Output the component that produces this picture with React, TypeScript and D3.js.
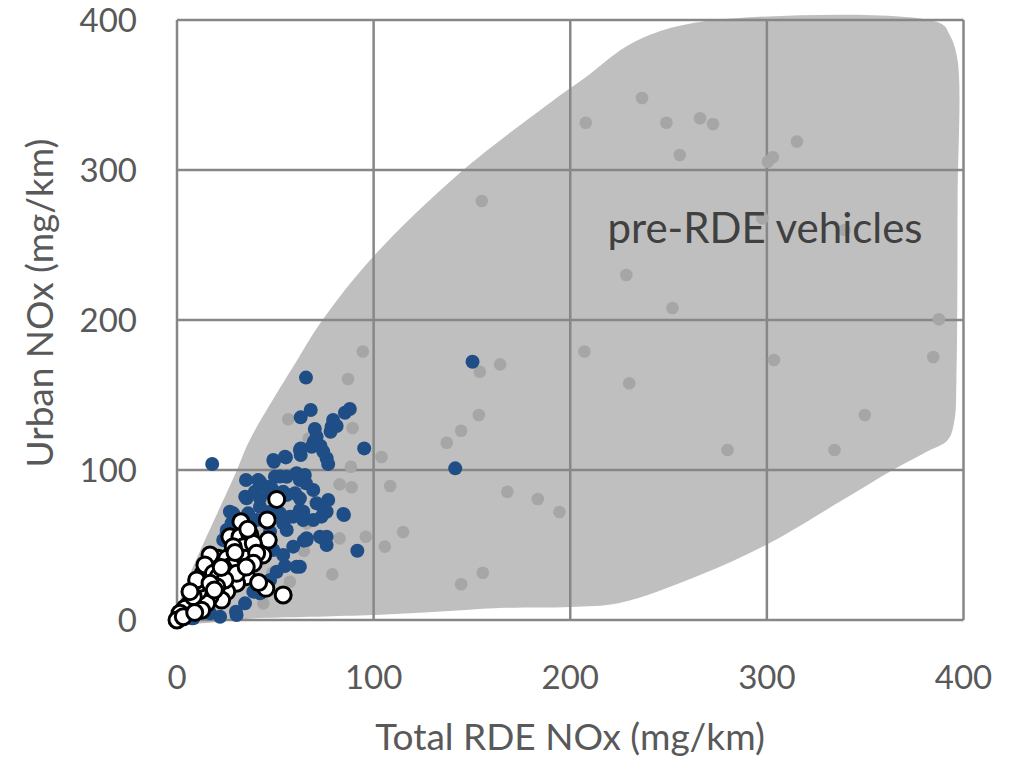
import React from 'react';
import * as d3 from 'd3';

// pre-RDE envelope (data coords), traced counter-clockwise from origin
const envelope: [number, number][] = [
  [0, 0], [42, 1.3], [99.6, 3.3], [130, 5.3], [164, 8], [200, 8.7], [225, 11.3],
  [266, 30], [301, 51], [338.5, 80], [364, 100], [381, 112], [392, 120],
  [395.4, 133], [396.4, 160], [397, 280], [397, 373], [393, 390], [388, 398],
  [266, 398.7], [232, 385], [208, 362], [192, 347], [143.8, 298], [99.6, 242],
  [74, 200], [61, 173], [37, 120], [30.5, 100], [1.5, 13],
];

const preRde: [number, number][] = [
  [207.9, 331.5], [236.5, 348], [248.9, 331.5], [266, 334.5], [272.6, 330.7],
  [255.7, 310], [315.3, 319], [300.5, 305.5], [303, 308.5], [297.7, 267.8],
  [339.5, 260], [228.5, 230], [252, 208], [387.5, 200.5], [207.2, 179],
  [303.6, 173.3], [384.6, 175.3], [230, 157.8], [349.8, 136.7], [280, 113.3],
  [334.4, 113.3], [155, 279.3], [94.5, 179], [87, 160.7], [89.3, 128],
  [104, 108.7], [88.4, 102.2], [82.7, 90.5], [88.8, 88.5], [108.4, 89.3],
  [66, 64.4], [82.7, 54.4], [96, 55.5], [115, 58.7], [105.7, 48.9], [64.5, 46.2],
  [79, 30.4], [154, 165.5], [164.3, 170.4], [153.5, 136.7], [144.5, 126.2],
  [137.2, 118.2], [168, 85.5], [183.5, 80.7], [194.5, 72], [144.5, 23.8],
  [155.5, 31.5], [56.6, 133.8], [67, 121], [57.4, 25.5], [43.9, 11.1], [48.6, 31.5],
];

const rdeVehicles: [number, number][] = [
  [17.9, 104], [65.6, 161.6], [68, 140], [62.9, 135.1], [87.9, 140.7], [85.4, 138.2],
  [79.4, 133.3], [78.6, 128.9], [81.2, 129.3], [78.1, 125.5], [70.1, 127.3],
  [71, 122.2], [69.6, 118.9], [73, 116], [74.4, 112.2], [76.1, 107.8], [76.9, 104],
  [95.2, 114.4], [62.9, 114.4], [62.9, 110], [55.4, 108.4], [49.3, 105.5],
  [35.1, 93.3], [42.2, 92.2], [45.6, 88.9], [52.4, 95.6], [60.8, 97.8], [62.5, 93.3],
  [65.6, 91.1], [48.1, 87.8], [54, 85.5], [39.6, 85.5], [34.7, 82.2], [60, 84.5],
  [71, 77.8], [76.9, 80], [74.4, 74.4], [84.6, 70.7], [64.2, 72.2], [42.2, 75.5],
  [28.6, 71.1], [27.8, 64.5], [25.3, 57.8], [47.3, 72.2], [52.4, 71.1], [59.1, 68.9],
  [54, 64.5], [40.5, 66.7], [65.9, 54.5], [72.7, 55.5], [76.1, 55.5], [65, 96.7],
  [63.9, 72.2], [84.9, 70], [64.5, 52.9], [74.4, 54.5], [76.1, 50], [91.7, 46.2],
  [62.5, 35.5], [73.5, 68.9], [76.1, 72.2], [54.9, 108.9], [62.5, 113.3], [68.5, 115.5],
  [49, 106.7], [41.3, 93.3], [49.8, 95.5], [55.8, 95.5], [69.3, 86.7], [35.4, 81.1],
  [42.2, 81.1], [48.1, 84.5], [55.8, 83.3], [62.5, 81.1], [26.9, 72.2], [30.3, 67.8],
  [36.2, 71.1], [45.6, 66.7], [57.4, 68.9], [62.5, 73.3], [69.3, 66.7], [25.3, 60],
  [23.5, 53.3], [47.3, 58.9], [55.8, 60], [49, 46.7], [54, 43.3], [59.1, 48.9],
  [65.9, 53.3], [64.2, 66.7], [54.9, 36], [60.8, 35.5], [50.7, 32.2], [47.3, 26.7],
  [40.5, 20], [42.2, 17.8], [34.6, 11.1], [30.3, 3.3], [21.9, 2.2], [16.8, 4.5],
  [8.3, 1.1], [21.9, 22.2], [15.1, 13.3], [10.8, 7.8], [25.3, 40], [18.5, 35.5],
  [13.4, 28.9], [38.8, 18.9], [30, 5.5], [7.5, 1.1], [150.3, 172.2], [141.5, 101.1],
];

const rdeCompliant: [number, number][] = [
  [50.7, 80.4], [45.9, 66.7], [32.5, 65.5], [46.4, 53.3], [43.6, 43.3], [26.9, 55.5],
  [32, 55.5], [37.1, 56.7], [33.7, 48.9], [28.6, 48.9], [38.8, 51.1], [21, 41.1],
  [25.3, 41.1], [16.8, 43.3], [26.9, 35.5], [35.4, 28.9], [30.3, 24.5], [25.3, 18.9],
  [22.7, 13.3], [16.8, 15.5], [15.1, 11.1], [10.8, 18.9], [11.7, 24.5], [13.4, 31.1],
  [10, 26.7], [14.2, 36.7], [45.2, 21.1], [54, 16.7], [6.6, 11.1], [4.1, 7.8],
  [1.5, 4.5], [0, 0], [3.2, 2.2], [8.3, 15.5], [6.6, 18.9], [18.5, 31.1], [21, 28.9],
  [30.3, 40], [34.6, 41.1], [40.5, 44.5], [38.8, 37.8], [30.3, 31.1], [24.4, 26.7],
  [20.2, 22.2], [16.8, 24.5], [36, 60.5], [29.5, 45], [22.5, 35], [19, 20],
  [12.5, 6.5], [9, 5], [41.5, 25], [35.2, 35.3],
];

const ticks = [0, 100, 200, 300, 400];

const FONT = 'Lato, "Open Sans", sans-serif';

const App: React.FC = () => {
  const width = 1020;
  const height = 758;
  const x = d3.scaleLinear().domain([0, 400]).range([177, 963.5]);
  const y = d3.scaleLinear().domain([0, 400]).range([620, 20]);

  const area = d3.line<[number, number]>()
    .x(d => x(d[0]))
    .y(d => y(d[1]))
    .curve(d3.curveCatmullRomClosed.alpha(0.5));

  return (
    <svg width={width} height={height}
      style={{ position: 'absolute', left: 0, top: 0, background: '#fff' }}>
      <path d={area(envelope) || ''} fill="#bfbfbf" />

      {/* grid */}
      {ticks.map(t => (
        <line key={'gx' + t} x1={x(t)} x2={x(t)} y1={y(0)} y2={y(400)}
          stroke="#878787" strokeWidth={2.5} />
      ))}
      {ticks.map(t => (
        <line key={'gy' + t} x1={x(0)} x2={x(400)} y1={y(t)} y2={y(t)}
          stroke="#878787" strokeWidth={2.5} />
      ))}

      {preRde.map((d, i) => (
        <circle key={'p' + i} cx={x(d[0])} cy={y(d[1])} r={6.3} fill="#a6a6a6" />
      ))}
      {rdeVehicles.map((d, i) => (
        <circle key={'b' + i} cx={x(d[0])} cy={y(d[1])} r={7} fill="#1f4e87" />
      ))}
      {rdeCompliant.map((d, i) => (
        <circle key={'w' + i} cx={x(d[0])} cy={y(d[1])} r={8} fill="#ffffff"
          stroke="#000" strokeWidth={3} />
      ))}

      <text x={765} y={243} textAnchor="middle" fontFamily={FONT} fontSize={42}
        fill="#404040">pre-RDE vehicles</text>

      {/* tick labels */}
      {ticks.map(t => (
        <text key={'tx' + t} x={x(t)} y={689} textAnchor="middle" fontFamily={FONT}
          fontSize={33} fill="#595959">{t}</text>
      ))}
      {ticks.map(t => (
        <text key={'ty' + t} x={137} y={y(t) + 12} textAnchor="end" fontFamily={FONT}
          fontSize={33} fill="#595959">{t}</text>
      ))}

      <text x={570} y={750} textAnchor="middle" fontFamily={FONT} fontSize={37}
        fill="#595959">Total RDE NOx (mg/km)</text>
      <text transform="translate(53,303) rotate(-90)" textAnchor="middle"
        fontFamily={FONT} fontSize={37} fill="#595959">Urban NOx (mg/km)</text>
    </svg>
  );
};

export default App;
